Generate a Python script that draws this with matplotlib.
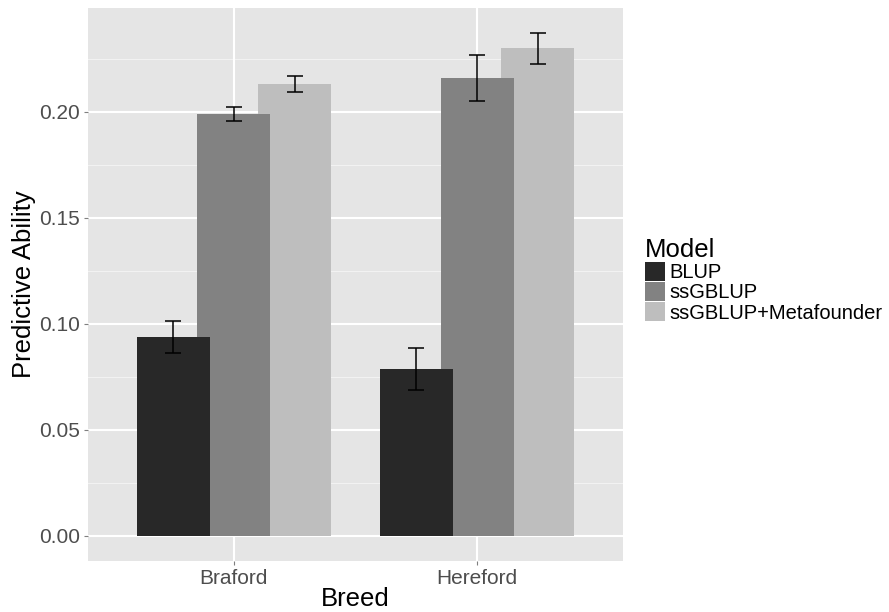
import matplotlib
matplotlib.use("Agg")
import matplotlib.pyplot as plt
from matplotlib.patches import Patch
import numpy as np

plt.rcParams['font.family'] = ['Liberation Sans', 'DejaVu Sans']

breeds = ["Braford", "Hereford"]
models = ["BLUP", "ssGBLUP", "ssGBLUP+Metafounder"]
blup = [0.0938, 0.0788]
blup_err = [0.0077, 0.0100]
ssgblup = [0.1989, 0.2158]
ssgblup_err = [0.0033, 0.0109]
meta = [0.2129, 0.2298]
meta_err = [0.0037, 0.0072]
yticks = [0.00, 0.05, 0.10, 0.15, 0.20]
ytick_labels = ["0.00", "0.05", "0.10", "0.15", "0.20"]

colors = ["#282828", "#828282", "#BEBEBE"]
series = [blup, ssgblup, meta]
errors = [blup_err, ssgblup_err, meta_err]

fig = plt.figure(figsize=(8.89, 6.12), dpi=100)
ax = fig.add_axes([88/889, 1 - 561/612, (623-88)/889, (561-8)/612])
ax.set_facecolor("#E5E5E5")

x = np.arange(1, len(breeds) + 1)
dodge = 0.75 / 3
bw = 0.9 / 3
cap = 0.2 / 3
for i, (vals, errs, col) in enumerate(zip(series, errors, colors)):
    pos = x + (i - 1) * dodge
    ax.bar(pos, vals, width=bw, color=col, zorder=4 - i, linewidth=0)
    lo = np.array(vals) - np.array(errs)
    hi = np.array(vals) + np.array(errs)
    ax.vlines(pos, lo, hi, color="black", linewidth=1.1, zorder=6)
    ax.hlines(lo, pos - cap / 2, pos + cap / 2, color="black", linewidth=1.1, zorder=6)
    ax.hlines(hi, pos - cap / 2, pos + cap / 2, color="black", linewidth=1.1, zorder=6)

ymax = max(np.max(np.array(s) + np.array(e)) for s, e in zip(series, errors))
ax.set_ylim(-0.05 * ymax, ymax * 1.05)
ax.set_xlim(0.4, 2.6)

# grid
minor = [0.025, 0.075, 0.125, 0.175, 0.225]
for m in minor:
    ax.axhline(m, color="#F2F2F2", linewidth=0.8, zorder=0.5)
for t in yticks:
    ax.axhline(t, color="white", linewidth=1.5, zorder=0.6)
for xi in x:
    ax.axvline(xi, color="white", linewidth=1.5, zorder=0.6)

ax.set_yticks(yticks)
ax.set_yticklabels(ytick_labels)
ax.set_xticks(x)
ax.set_xticklabels(breeds)
ax.tick_params(axis='both', length=3, width=0.8, color="#7F7F7F",
               labelsize=15, labelcolor="#4D4D4D", pad=3)
for s in ax.spines.values():
    s.set_visible(False)

ax.set_xlabel("Breed", fontsize=18.5, color="black", labelpad=-1)
ax.set_ylabel("Predictive Ability", fontsize=18.5, color="black", labelpad=2)

handles = [Patch(facecolor=c, edgecolor='none') for c in colors]
leg = fig.legend(handles, models, loc="upper left",
                 bbox_to_anchor=(645/889, 1 - 238/612),
                 title="Model", title_fontsize=18.5, fontsize=14.5,
                 frameon=False, labelspacing=0.0, handlelength=1.0,
                 handleheight=1.05, handletextpad=0.2, borderpad=0,
                 borderaxespad=0, alignment='left')

fig.savefig("out.png", dpi=100)
